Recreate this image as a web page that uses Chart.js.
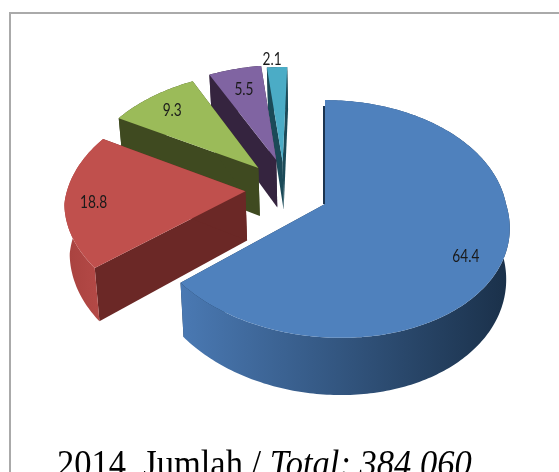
<!DOCTYPE html>
<html>
<head>
<meta charset="utf-8">
<script src="https://cdn.jsdelivr.net/npm/chart.js@4"></script>
<style>
  html, body { margin: 0; padding: 0; background: #fff; overflow: hidden; }
  #wrap { position: relative; width: 559px; height: 472px; overflow: hidden; }
  #frame { position: absolute; left: 9px; top: 12px; width: 600px; height: 500px; border: 2px solid #aaa; }
  #chart { position: absolute; left: 0; top: 0; filter: blur(0.4px); }
  #caption {
    position: absolute; left: 57px; top: 441px; white-space: pre;
    font: 34.5px "Liberation Serif", serif; color: #000;
    transform: scaleY(1.12); transform-origin: left top;
  }
</style>
</head>
<body>
<div id="wrap">
  <div id="frame"></div>
  <canvas id="chart" width="559" height="472"></canvas>
  <div id="caption">2014  Jumlah / <i>Total: 384,060</i></div>
</div>
<script>
const categories = ["A", "B", "C", "D", "E"];
const values = [64.4, 18.8, 9.3, 5.5, 2.1];
const labels = ["64.4", "18.8", "9.3", "5.5", "2.1"];

const topColors = ["#4f81bd", "#c0504d", "#9bbb59", "#8064a2", "#4bacc6"];
const sideColors = ["#1c3450", "#6b2826", "#3f4a20", "#35243f", "#1b4a58"];
const wallColors = [["#4a79b3", "#1a3049"], ["#a8423f", "#b54a47"], ["#3f4a20", "#3f4a20"], ["#35243f", "#35243f"], ["#1b4a58", "#1b4a58"]];

// explosion of each slice on the plane of the pie (unit = radius)
const explode = [[0, 0], [-0.446, -0.11], [-0.383, -0.32], [-0.283, -0.395], [-0.245, -0.375]];
const labelRadius = [0.82, 0.84, 0.8, 0.76, 1.1];
const labelTurn = [5, -2, 0, 0, -1.5]; // degrees away from the middle of the slice

// 3d look of the pie
const view = { cx: 325, cy: 204, rx: 181, ry: 117, persp: 0.126, shear: 14, depth: 50, shrink: 0.98, vx: 330 };

function project(u, v) {
  const d = 1 - view.persp * v;
  return {
    x: view.cx + (view.rx * u + view.shear * Math.max(v, 0)) / d,
    y: view.cy + view.ry * v / d
  };
}

function projectLow(u, v) {
  const p = project(u, v);
  const d = 1 - view.persp * v;
  return { x: view.vx + (p.x - view.vx) * view.shrink, y: p.y + view.depth / d };
}

function poly(ctx, pts, fill) {
  ctx.beginPath();
  pts.forEach((p, i) => (i ? ctx.lineTo(p.x, p.y) : ctx.moveTo(p.x, p.y)));
  ctx.closePath();
  ctx.fillStyle = fill;
  ctx.fill();
}

const pie3d = {
  id: "pie3d",
  beforeDatasetDraw(chart) {
    const ctx = chart.ctx;
    const arcs = chart.getDatasetMeta(0).data;

    // back slices first, blue on top
    for (let i = arcs.length - 1; i >= 0; i--) {
      const a = arcs[i];
      const [ox, oy] = explode[i];
      const upper = [], lower = [];
      const steps = Math.max(4, Math.ceil((a.endAngle - a.startAngle) * 60));
      for (let s = 0; s <= steps; s++) {
        const t = a.startAngle + (a.endAngle - a.startAngle) * s / steps;
        const u = ox + Math.cos(t), v = oy + Math.sin(t);
        upper.push(project(u, v));
        lower.push(projectLow(u, v));
      }
      const apex = project(ox, oy);
      const apexLow = projectLow(ox, oy);

      // both cut faces
      poly(ctx, [upper[0], apex, apexLow, lower[0]], sideColors[i]);
      poly(ctx, [upper[steps], apex, apexLow, lower[steps]], sideColors[i]);

      // outer wall
      const xs = upper.map((p) => p.x);
      const grad = ctx.createLinearGradient(Math.min(...xs), 0, Math.max(...xs), 0);
      grad.addColorStop(0, wallColors[i][0]);
      grad.addColorStop(1, wallColors[i][1]);
      poly(ctx, upper.concat(lower.slice().reverse()), grad);

      if (i === 0) {
        ctx.strokeStyle = sideColors[0];
        ctx.lineWidth = 2;
        ctx.beginPath();
        ctx.moveTo(upper[0].x - 1, upper[0].y + 6);
        ctx.lineTo(apex.x - 1, apex.y);
        ctx.stroke();
      }

      // top
      poly(ctx, [apex].concat(upper), topColors[i]);
    }

    // value labels, squeezed to look like the narrow office font
    ctx.font = '18px Lato, sans-serif';
    ctx.fillStyle = "#1a1a1a";
    ctx.textAlign = "center";
    ctx.textBaseline = "middle";
    arcs.forEach((a, i) => {
      const mid = (a.startAngle + a.endAngle) / 2 + labelTurn[i] * Math.PI / 180;
      const p = project(explode[i][0] + labelRadius[i] * Math.cos(mid), explode[i][1] + labelRadius[i] * Math.sin(mid));
      ctx.save();
      ctx.translate(p.x, p.y);
      ctx.scale(0.76, 1);
      ctx.fillText(labels[i], 0, 0);
      ctx.restore();
    });
    return false;
  }
};

new Chart(document.getElementById("chart"), {
  type: "pie",
  data: {
    labels: categories,
    datasets: [{ data: values, backgroundColor: topColors, borderWidth: 0 }]
  },
  options: {
    responsive: false,
    animation: false,
    plugins: { legend: { display: false }, tooltip: { enabled: false } }
  },
  plugins: [pie3d]
});
</script>
</body>
</html>
